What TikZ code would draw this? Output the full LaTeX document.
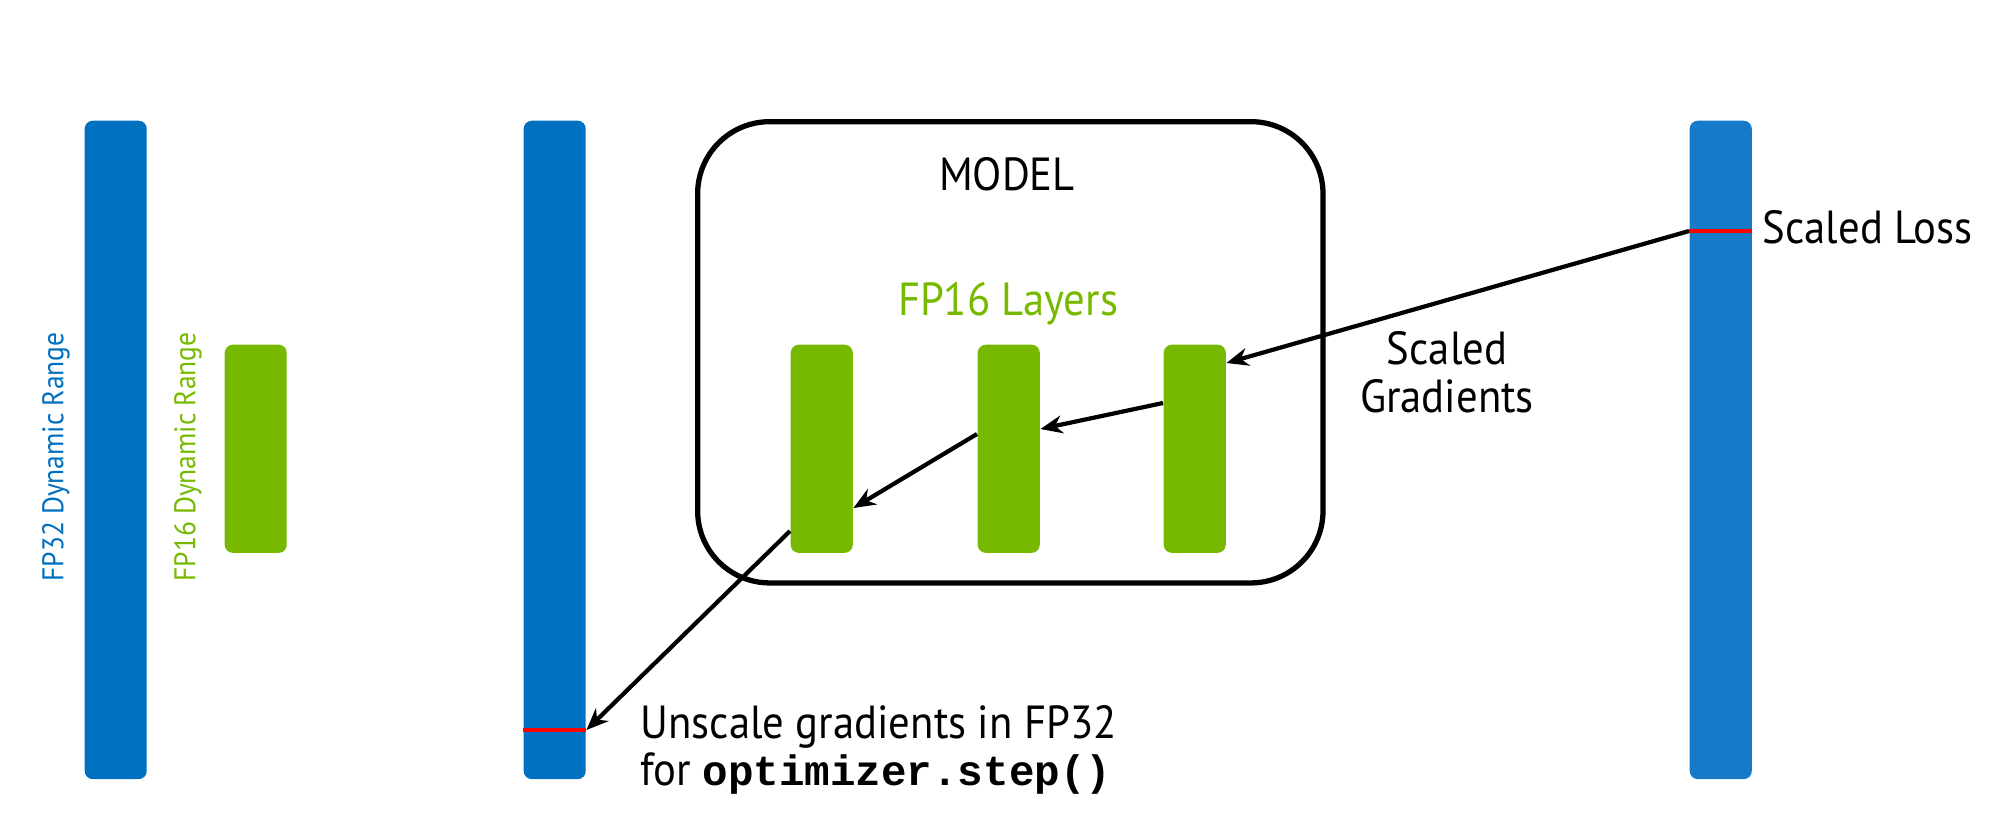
\documentclass[tikz,border=0pt]{standalone}
\usepackage{fontspec}
\setmainfont{PT Sans}[FakeStretch=0.92]
\newfontfamily\codefont{Liberation Mono}
\usetikzlibrary{arrows.meta,calc}
\definecolor{fpblue}{HTML}{0070C0}
\definecolor{fpblueb}{HTML}{177AC8}
\definecolor{nvgreen}{HTML}{76B900}
\definecolor{lossred}{HTML}{FF0000}
\begin{document}
\begin{tikzpicture}[x=0.01cm,y=-0.01cm,
  bar/.style={fill=#1, draw=none, rounded corners=0.08cm, inner sep=0pt, anchor=north west},
  tallbar/.style={bar=#1, minimum width=0.62cm, minimum height=6.58cm},
  layerbar/.style={bar=nvgreen, minimum width=0.62cm, minimum height=2.08cm},
  redline/.style={draw=lossred, line width=1.1pt},
  arr/.style={draw=black, line width=1.2pt, -{Stealth[length=0.22cm,width=0.18cm]}},
  lbl/.style={font=\fontsize{13.2}{13.7}\selectfont, inner sep=0pt},
  sidelbl/.style={font=\fontsize{8.5}{9}\selectfont, inner sep=0pt, rotate=90}]
\useasboundingbox (0,0) rectangle (2000,823);

% left bars
\node[tallbar=fpblue] (b1) at (84,120) {};
\node[layerbar] (g0) at (224,344) {};
\node[sidelbl, text=fpblue] (t32) at (56,457) {FP32 Dynamic Range};
\node[sidelbl, text=nvgreen] (t16) at (188,457) {FP16 Dynamic Range};

% FP32 master bar
\node[tallbar=fpblue] (b2) at (523,120) {};
\coordinate (r2) at (554,730);
\draw[redline] (b2.west|-r2) -- (b2.east|-r2);

% model box
\node[draw=black, line width=1.5pt, rounded corners=0.72cm, minimum width=6.25cm, minimum height=4.61cm, anchor=north west, inner sep=0pt] (model) at (695,119) {};
\node[lbl] (modeltxt) at (1007,174) {MODEL};
\node[lbl, text=nvgreen, anchor=base] (layerstxt) at (1008,315) {FP16 Layers};
\node[layerbar] (l1) at (790,344) {};
\node[layerbar] (l2) at (977,344) {};
\node[layerbar] (l3) at (1163,344) {};

% loss bar
\node[tallbar=fpblueb] (b3) at (1689,120) {};
\coordinate (r3) at (1720,231);
\draw[redline] (b3.west|-r3) -- (b3.east|-r3);
\node[lbl, anchor=base west] (losstxt) at (1762,243) {Scaled Loss};
\node[lbl, align=center] (gradtxt) at (1447,372) {Scaled\\Gradients};
\node[lbl, align=left, anchor=north west, font=\fontsize{13.2}{13.2}\selectfont] (unscaletxt) at (640,705)
  {Unscale gradients in FP32\\for {\codefont\bfseries\fontsize{12.1}{13.2}\selectfont optimizer.step()}};

% arrows
\draw[arr] (b3.west|-r3) -- ($(l3.north east)+(0,19)$);
\draw[arr] ($(l3.north west)+(0,59)$) -- ($(l2.north east)+(0,85)$);
\draw[arr] ($(l2.north west)+(0,90)$) -- ($(l1.north east)+(0,164)$);
\draw[arr] ($(l1.north west)+(0,187)$) -- (b2.east|-r2);
\end{tikzpicture}
\end{document}
